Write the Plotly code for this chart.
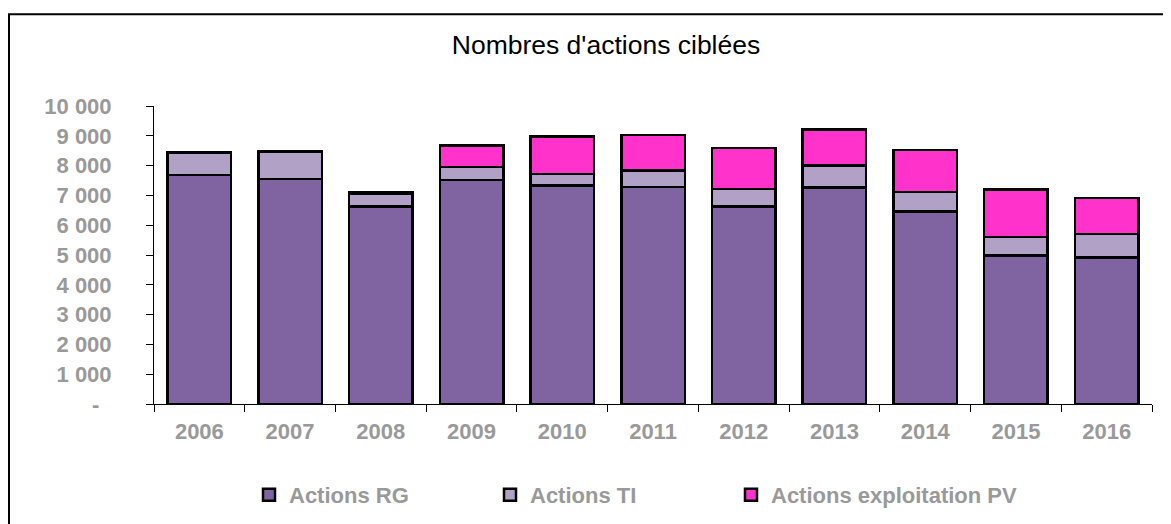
import plotly.graph_objects as go

years = ["2006", "2007", "2008", "2009", "2010", "2011", "2012", "2013", "2014", "2015", "2016"]
actions_rg = [7690, 7550, 6630, 7520, 7340, 7290, 6630, 7260, 6460, 4980, 4920]
actions_ti = [750, 930, 430, 430, 380, 540, 590, 750, 660, 620, 780]
actions_pv = [0, 0, 40, 720, 1250, 1200, 1370, 1200, 1400, 1590, 1210]

y_tickvals = [0, 1000, 2000, 3000, 4000, 5000, 6000, 7000, 8000, 9000, 10000]
y_ticktext = ["-\u00a0\u00a0", "1 000", "2 000", "3 000", "4 000", "5 000",
              "6 000", "7 000", "8 000", "9 000", "10 000"]

series = [
    ("Actions RG", actions_rg, "#8064A2", "legend"),
    ("Actions TI", actions_ti, "#B2A1C7", "legend2"),
    ("Actions exploitation PV", actions_pv, "#FF33CC", "legend3"),
]

FONT = "Liberation Sans, Arial, sans-serif"
GREY = "#999999"

fig = go.Figure()
for name, vals, color, leg in series:
    fig.add_trace(go.Bar(
        x=years, y=vals, name=name, legend=leg, showlegend=True,
        marker=dict(color=color, line=dict(color="black", width=2.5)),
    ))

# page body adds an 8px margin, so the figure is sized to fit the window
W, H = 1163, 516
L, R, T, B = 146, 1144, 98, 396.5

legend_common = dict(
    orientation="h", xref="container", yref="container",
    xanchor="left", yanchor="middle", bgcolor="rgba(0,0,0,0)",
    font=dict(family=FONT, size=22, color=GREY, weight="bold"),
    itemclick=False, itemdoubleclick=False,
)

def leg(xpx):
    d = dict(legend_common)
    d["x"] = xpx / W
    d["y"] = 1 - 487 / H
    return d

fig.update_layout(
    width=W, height=H, showlegend=True,
    margin=dict(l=L, r=W - R, t=T, b=H - B, pad=0),
    paper_bgcolor="white", plot_bgcolor="white",
    barmode="stack", bargap=0.3,
    title=dict(text="Nombres d'actions ciblées", x=598 / W, xanchor="center",
               xref="container", yref="container", y=1 - 37 / H, yanchor="middle",
               font=dict(family=FONT, size=26.5, color="black")),
    legend=leg(241),
    legend2=leg(482),
    legend3=leg(723),
    xaxis=dict(
        type="category", tickson="boundaries", ticks="outside", ticklen=7,
        tickcolor="black", tickwidth=1, showline=True, linecolor="black", linewidth=1,
        showgrid=False, ticklabelstandoff=8,
        tickfont=dict(family=FONT, size=22, color=GREY, weight="bold"),
    ),
    yaxis=dict(
        range=[0, 10000], tickvals=y_tickvals, ticktext=y_ticktext,
        ticks="outside", ticklen=7, tickcolor="black", tickwidth=1,
        showline=True, linecolor="black", linewidth=1, showgrid=False, zeroline=False,
        ticklabelstandoff=30,
        tickfont=dict(family=FONT, size=22, color=GREY, weight="bold"),
    ),
    shapes=[dict(
        type="rect", xref="paper", yref="paper",
        x0=(1 - L) / (R - L), x1=(W + 20 - L) / (R - L),
        y0=(B - (H + 20)) / (B - T), y1=(B - 6) / (B - T),
        line=dict(color="black", width=2), fillcolor="rgba(0,0,0,0)", layer="below",
    )],
)

fig.write_html("out.html")
